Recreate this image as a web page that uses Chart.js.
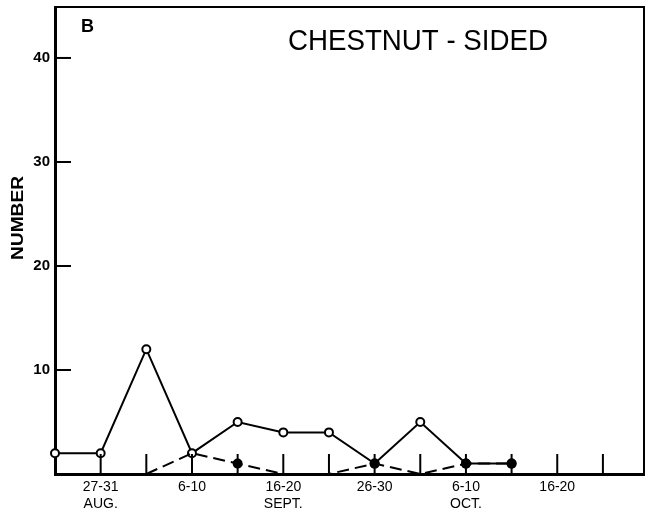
<!DOCTYPE html>
<html>
<head>
<meta charset="utf-8">
<script src="https://cdn.jsdelivr.net/npm/chart.js@4"></script>
<style>
html,body{margin:0;padding:0;background:#fff;}
#wrap{width:650px;height:516px;}
</style>
</head>
<body>
<div id="wrap"><canvas id="c" width="650" height="516"></canvas></div>
<script>
// Five-day periods (index 0 = 22-26 Aug ... )
const periodIndex = [0,1,2,3,4,5,6,7,8,9,10];
const openSeries   = [2, 2, 12, 2, 5, 4, 4, 1, 5, 1, 1];
const filledSeries = [null, null, 0, 2, 1, 0, 0, 1, 0, 1, 1];
const filledMarker = [0, 0, 0, 0, 1, 0, 0, 1, 0, 1, 1];
const xTickLabels = ['', '27-31', '', '6-10', '', '16-20', '', '26-30', '', '6-10', '', '16-20', ''];
const monthLabels = ['', 'AUG.', '', '', '', 'SEPT.', '', '', '', 'OCT.', '', '', ''];
const yTicks = [10, 20, 30, 40];
const chartTitle = 'CHESTNUT - SIDED';
const panelLetter = 'B';
const yTitle = 'NUMBER';

const FONT = "'Liberation Sans', Arial, sans-serif";

const framePlugin = {
  id: 'frame',
  afterDraw(chart) {
    const ctx = chart.ctx, a = chart.chartArea;
    const xs = chart.scales.x, ys = chart.scales.y;
    ctx.save();
    ctx.strokeStyle = '#000';
    ctx.lineWidth = 2;
    ctx.beginPath();
    ctx.moveTo(a.left, a.top); ctx.lineTo(a.right, a.top); ctx.lineTo(a.right, a.bottom);
    ctx.stroke();
    // inner ticks on x axis
    for (let i = 1; i < xTickLabels.length; i++) {
      const px = xs.getPixelForValue(i);
      ctx.beginPath(); ctx.moveTo(px, a.bottom); ctx.lineTo(px, a.bottom - 20); ctx.stroke();
    }
    // inner ticks on y axis
    yTicks.forEach(v => {
      const py = ys.getPixelForValue(v);
      ctx.beginPath(); ctx.moveTo(a.left, py); ctx.lineTo(a.left + 16, py); ctx.stroke();
    });
    ctx.fillStyle = '#000';
    ctx.textBaseline = 'middle';
    // title
    ctx.font = '30px ' + FONT;
    const w = ctx.measureText(chartTitle).width;
    ctx.save();
    ctx.translate(288, 42);
    ctx.scale(260 / w, 1);
    ctx.textAlign = 'left';
    ctx.fillText(chartTitle, 0, 0);
    ctx.restore();
    // panel letter
    ctx.font = 'bold 18px ' + FONT;
    ctx.textAlign = 'left';
    ctx.fillText(panelLetter, 81, 27);
    // y axis title
    ctx.font = 'bold 17px ' + FONT;
    const wy = ctx.measureText(yTitle).width;
    ctx.save();
    ctx.translate(18, 218);
    ctx.rotate(-Math.PI / 2);
    ctx.scale(84 / wy, 1);
    ctx.textAlign = 'center';
    ctx.fillText(yTitle, 0, 0);
    ctx.restore();
    ctx.restore();
  }
};

new Chart(document.getElementById('c'), {
  type: 'line',
  data: {
    datasets: [
      {
        data: periodIndex.map((x, i) => ({x, y: filledSeries[i]})),
        borderColor: '#000',
        borderWidth: 2,
        borderDash: [12, 6],
        pointRadius: filledMarker.map(m => m ? 4 : 0),
        pointBackgroundColor: '#000',
        pointBorderColor: '#000',
        spanGaps: false,
        order: 1
      },
      {
        data: periodIndex.map((x, i) => ({x, y: openSeries[i]})),
        borderColor: '#000',
        borderWidth: 2,
        pointRadius: 4,
        pointBorderWidth: 2,
        pointBackgroundColor: '#fff',
        pointBorderColor: '#000',
        order: 2
      }
    ]
  },
  options: {
    responsive: false,
    animation: false,
    clip: false,
    layout: { padding: { top: 7, right: 5, left: 0, bottom: 0 } },
    plugins: { legend: { display: false }, tooltip: { enabled: false } },
    scales: {
      x: {
        type: 'linear', min: 0, max: 12.9,
        grid: { display: false, drawTicks: false },
        border: { display: true, color: '#000', width: 3 },
        ticks: {
          stepSize: 1, autoSkip: false, maxRotation: 0, padding: 5,
          color: '#000', font: { family: FONT, size: 14 },
          callback: (v) => {
            if (!Number.isInteger(v)) return '';
            const a = xTickLabels[v] || '', b = monthLabels[v] || '';
            return b ? [a, b] : a;
          }
        },
        afterFit: (s) => { s.height = 42; s.paddingLeft = 0; s.paddingRight = 0; }
      },
      y: {
        min: 0, max: 44.9,
        grid: { display: false, drawTicks: false },
        border: { display: true, color: '#000', width: 3 },
        ticks: {
          stepSize: 10, padding: 5, color: '#000',
          font: { family: FONT, size: 15, weight: 'bold' },
          callback: (v) => yTicks.includes(v) ? String(v) : ''
        },
        afterFit: (s) => { s.width = 55; s.paddingTop = 0; s.paddingBottom = 0; }
      }
    }
  },
  plugins: [framePlugin]
});
</script>
</body>
</html>
